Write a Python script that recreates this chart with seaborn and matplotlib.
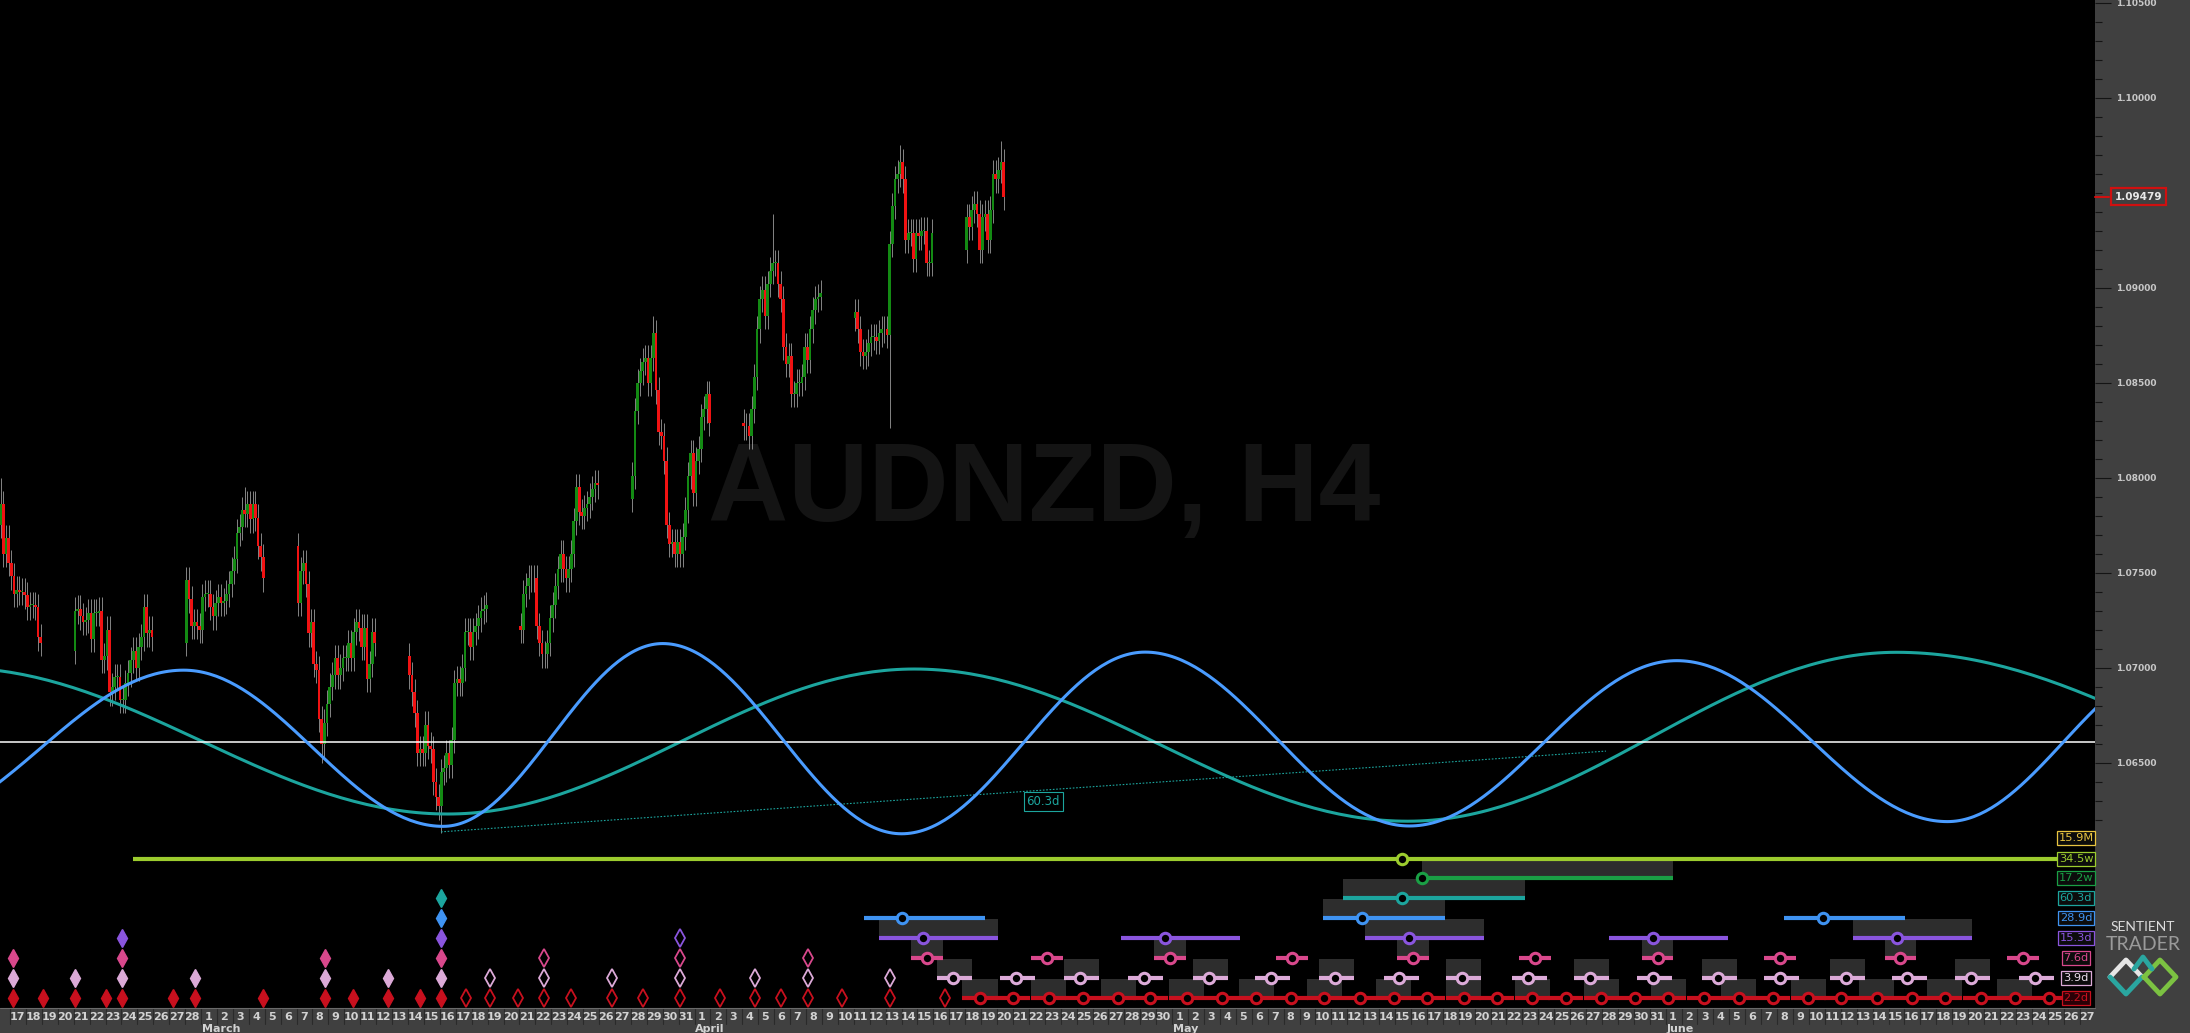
import numpy as np
import pandas as pd
import seaborn as sns
import matplotlib
matplotlib.use("Agg")
import matplotlib.pyplot as plt
from matplotlib.patches import Rectangle
from matplotlib.ticker import FixedLocator, FuncFormatter
from matplotlib.transforms import blended_transform_factory

# time axis: days counted from 17 Feb 2022 00:00
START = "2022-02-17"

# H4 candles, one list of closes per trading week
week_start = [-0.667, 4, 11, 18, 25, 32, 39, 46, 53, 60]
week_open = [1.0775, 1.0709, 1.0713, 1.0764, 1.0706, 1.0722, 1.0789, 1.0829, 1.0884, 1.0920]
week_close = [
    [1.0786, 1.0760, 1.0768, 1.0755, 1.0748, 1.0739, 1.0741, 1.0740, 1.0740, 1.0738,
     1.0732, 1.0733, 1.0733, 1.0732, 1.0716, 1.0713],
    [1.0730, 1.0731, 1.0727, 1.0724, 1.0725, 1.0729, 1.0715, 1.0729, 1.0729, 1.0730,
     1.0704, 1.0706, 1.0720, 1.0687, 1.0690, 1.0695, 1.0695, 1.0683, 1.0683, 1.0692,
     1.0697, 1.0704, 1.0709, 1.0700, 1.0711, 1.0716, 1.0732, 1.0718, 1.0720, 1.0716],
    [1.0746, 1.0736, 1.0722, 1.0724, 1.0722, 1.0720, 1.0737, 1.0739, 1.0739, 1.0732,
     1.0727, 1.0734, 1.0737, 1.0734, 1.0735, 1.0739, 1.0744, 1.0751, 1.0757, 1.0771,
     1.0774, 1.0783, 1.0781, 1.0786, 1.0778, 1.0786, 1.0779, 1.0764, 1.0758, 1.0747],
    [1.0734, 1.0751, 1.0755, 1.0744, 1.0718, 1.0724, 1.0702, 1.0699, 1.0673, 1.0660,
     1.0671, 1.0681, 1.0690, 1.0696, 1.0705, 1.0696, 1.0700, 1.0705, 1.0705, 1.0713,
     1.0705, 1.0719, 1.0724, 1.0721, 1.0711, 1.0721, 1.0694, 1.0702, 1.0719, 1.0713],
    [1.0696, 1.0687, 1.0676, 1.0655, 1.0657, 1.0655, 1.0670, 1.0659, 1.0657, 1.0640,
     1.0632, 1.0627, 1.0645, 1.0647, 1.0655, 1.0649, 1.0662, 1.0692, 1.0694, 1.0692,
     1.0700, 1.0719, 1.0719, 1.0711, 1.0719, 1.0722, 1.0726, 1.0730, 1.0731, 1.0733],
    [1.0720, 1.0739, 1.0743, 1.0747, 1.0747, 1.0747, 1.0722, 1.0713, 1.0707, 1.0707,
     1.0713, 1.0726, 1.0733, 1.0743, 1.0752, 1.0760, 1.0752, 1.0747, 1.0752, 1.0760,
     1.0777, 1.0795, 1.0782, 1.0780, 1.0784, 1.0786, 1.0790, 1.0794, 1.0797, 1.0796],
    [1.0801, 1.0835, 1.0850, 1.0856, 1.0861, 1.0863, 1.0850, 1.0863, 1.0876, 1.0846,
     1.0824, 1.0822, 1.0809, 1.0775, 1.0765, 1.0766, 1.0760, 1.0766, 1.0760, 1.0769,
     1.0783, 1.0801, 1.0813, 1.0792, 1.0809, 1.0815, 1.0832, 1.0836, 1.0844, 1.0829],
    [1.0827, 1.0827, 1.0822, 1.0836, 1.0853, 1.0878, 1.0894, 1.0899, 1.0885, 1.0902,
     1.0909, 1.0913, 1.0913, 1.0902, 1.0894, 1.0869, 1.0860, 1.0864, 1.0844, 1.0844,
     1.0850, 1.0850, 1.0853, 1.0869, 1.0862, 1.0878, 1.0888, 1.0894, 1.0895, 1.0897],
    [1.0887, 1.0878, 1.0866, 1.0864, 1.0866, 1.0871, 1.0874, 1.0874, 1.0872, 1.0876,
     1.0878, 1.0878, 1.0875, 1.0923, 1.0943, 1.0957, 1.0960, 1.0966, 1.0957, 1.0925,
     1.0929, 1.0929, 1.0915, 1.0929, 1.0927, 1.0930, 1.0930, 1.0913, 1.0913, 1.0929],
    [1.0937, 1.0932, 1.0941, 1.0944, 1.0939, 1.0920, 1.0937, 1.0939, 1.0925, 1.0941,
     1.0960, 1.0957, 1.0962, 1.0966, 1.09479],
]
# long wicks, (week, bar) -> price
wick_high = {(0, 0): 1.0800, (2, 22): 1.0795, (6, 8): 1.0885, (7, 11): 1.0939,
             (8, 17): 1.0975, (9, 13): 1.0977}
wick_low = {(3, 9): 1.0650, (4, 12): 1.0613, (8, 13): 1.0826}
wick = 0.0007
last_price = 1.09479

# cycle waves, turning points (day, price)
blue_t = [-7.0, 10.9, 27.2, 41.0, 56.0, 71.3, 87.9, 104.7, 121.7, 136.3]
blue_p = [1.0617, 1.06987, 1.06165, 1.07127, 1.06126, 1.07082, 1.06167, 1.07037, 1.0619, 1.0703]
teal_t = [-3.5, 27.5, 56.8, 87.8, 118.5, 154.0]
teal_p = [1.0700, 1.0623, 1.06993, 1.06192, 1.07081, 1.0620]
hline_price = 1.0661
trend_t = [27.07, 100.25]
trend_p = [1.06136, 1.06561]

# price scale labels (the 1.09500 label sits under the last-price tag)
price_labels = [1.065, 1.070, 1.075, 1.080, 1.085, 1.090, 1.100, 1.105]

# cycle rows
rows = ["15.9M", "34.5w", "17.2w", "60.3d", "28.9d", "15.3d", "7.6d", "3.9d", "2.2d"]
row_colors = ["#e8c440", "#9ccc2e", "#1a9f45", "#1ca59e", "#3f93f2", "#8a55de",
              "#d9488c", "#dcaad8", "#c8101e"]
diamond_filled = {
    "60.3d": [27.08],
    "28.9d": [27.08],
    "15.3d": [7.03, 27.08],
    "7.6d": [0.21, 7.03, 19.76, 27.08],
    "3.9d": [0.21, 4.06, 7.03, 11.65, 19.76, 23.77, 27.08],
    "2.2d": [0.21, 2.04, 4.06, 6.02, 7.03, 10.25, 11.65, 15.92, 19.76, 21.53, 23.77,
             25.73, 27.08],
}
diamond_hollow = {
    "15.3d": [42.08],
    "7.6d": [33.53, 42.08, 50.11],
    "3.9d": [30.13, 33.53, 37.79, 42.08, 46.80, 50.11, 55.30],
    "2.2d": [28.62, 30.13, 31.90, 33.53, 35.26, 37.79, 39.76, 42.08, 44.60, 46.80,
             48.45, 50.11, 52.27, 55.30, 58.73],
}
proj_t = {
    "34.5w": [87.44],
    "17.2w": [88.69],
    "60.3d": [87.44],
    "28.9d": [56.06, 84.92, 113.86],
    "15.3d": [57.32, 72.55, 87.88, 103.20, 118.53],
    "7.6d": [57.60, 65.14, 72.86, 80.53, 88.13, 95.79, 103.49, 111.18, 118.75, 126.44],
    "3.9d": [59.21, 63.18, 67.21, 71.23, 75.29, 79.21, 83.23, 87.28, 91.21, 95.35,
             99.25, 103.20, 107.26, 111.18, 115.33, 119.19, 123.18, 127.20],
    "2.2d": [60.93, 63.00, 65.26, 67.40, 69.60, 71.61, 73.93, 76.13, 78.27, 80.46,
             82.54, 84.80, 86.93, 89.01, 91.33, 93.40, 95.63, 97.71, 99.94, 102.07,
             104.15, 106.44, 108.59, 110.74, 112.97, 115.04, 117.27, 119.47, 121.54,
             123.79, 125.94, 128.08],
}
# days before / after each projected trough
proj_window = {"34.5w": (79.71, 43.56), "17.2w": (0.0, 15.8), "60.3d": (3.68, 7.75),
               "28.9d": (2.44, 5.2), "15.3d": (2.76, 4.71), "7.6d": (1.0, 1.0),
               "3.9d": (1.0, 1.2), "2.2d": (1.1, 1.1)}
# which projections carry the shaded box (every other one, starting at this index)
box_start = {"17.2w": 0, "60.3d": 0, "28.9d": 1, "15.3d": 0, "7.6d": 0, "3.9d": 0, "2.2d": 0}


def cycle_curve(ts, ps, n=80):
    xs, ys = [], []
    for i in range(len(ts) - 1):
        s = np.linspace(0, 1, n)
        xs.append(ts[i] + s * (ts[i + 1] - ts[i]))
        ys.append(ps[i] + (ps[i + 1] - ps[i]) * (1 - np.cos(np.pi * s)) / 2)
    return np.concatenate(xs), np.concatenate(ys)


# candle table
recs = []
for w, closes in enumerate(week_close):
    for k, c in enumerate(closes):
        o = week_open[w] if k == 0 else closes[k - 1]
        recs.append(dict(t=week_start[w] + k / 6 + 1 / 12, o=o, c=c,
                         hi=wick_high.get((w, k), max(o, c) + wick),
                         lo=wick_low.get((w, k), min(o, c) - wick)))
bars = pd.DataFrame(recs)

sns.set_theme(style="dark")
plt.rcParams["font.family"] = ["DejaVu Sans"]
NARROW = ["Liberation Sans Narrow", "DejaVu Sans"]

W, H = 2190, 1033
PLOT_R, PLOT_B = 2095, 1008
BG = "#404040"

fig = plt.figure(figsize=(W / 100, H / 100), dpi=100)
fig.patch.set_facecolor(BG)
pos = [0, (H - PLOT_B) / H, PLOT_R / W, PLOT_B / H]
ax = fig.add_axes(pos)
ax.set_facecolor("black")
ax.set_xlim(-0.63, 130.97)
ax.set_ylim(1.05209, 1.10514)
for s in ax.spines.values():
    s.set_visible(False)
ax.grid(False)

# watermark
ax.text(64.95, 1.07925, "AUDNZD, H4", fontsize=80, fontweight="bold", color="#141414",
        family=["Liberation Sans", "DejaVu Sans"], ha="center", va="center", zorder=0)

# candles
ax.vlines(bars.t, bars.lo, bars.hi, color="#9a9a9a", lw=0.6, zorder=2)
up = bars.c >= bars.o
body = (bars.c - bars.o).where((bars.c - bars.o).abs() > 0.00004, 0.00004)
ax.bar(bars.t[up], body[up], bottom=bars.o[up], width=0.17, color="#138a13",
       edgecolor="none", linewidth=0, zorder=3)
ax.bar(bars.t[~up], body[~up], bottom=bars.o[~up], width=0.17, color="#f01212",
       edgecolor="none", linewidth=0, zorder=3)

# cycle waves
bx, by = cycle_curve(blue_t, blue_p)
tx, ty = cycle_curve(teal_t, teal_p)
sns.lineplot(x=tx, y=ty, ax=ax, color="#1ca59e", linewidth=2.2, sort=False, estimator=None, zorder=4)
sns.lineplot(x=bx, y=by, ax=ax, color="#4a9cff", linewidth=2.2, sort=False, estimator=None, zorder=5)
ax.axhline(hline_price, color="white", lw=1.1, zorder=4)
ax.plot(trend_t, trend_p, color="#1ca59e", lw=0.8, ls=(0, (1.5, 1.5)), zorder=4)
ax.text(64.9, 1.06296, "60.3d", color="#1ca59e", fontsize=8.5, family=NARROW,
        ha="center", va="center",
        bbox=dict(boxstyle="square,pad=0.25", fc="black", ec="#1ca59e", lw=0.8), zorder=6)

# price scale on the right
ax.yaxis.tick_right()
ax.yaxis.set_major_locator(FixedLocator(price_labels))
ax.yaxis.set_minor_locator(FixedLocator(np.round(np.arange(1.062, 1.1051, 0.001), 3)))
ax.yaxis.set_major_formatter(FuncFormatter(lambda v, _: f"{v:.5f}"))
ax.tick_params(axis="y", which="both", right=True, left=False, labelright=True, labelleft=False)
ax.tick_params(axis="y", which="major", length=11.5, width=0.8, color="#141414", pad=3.5,
               labelsize=6.5, labelcolor="#c8c8c8")
ax.tick_params(axis="y", which="minor", length=5, width=0.8, color="#141414")
ax.set_xticks([])
ax.set_ylabel("")
for lab in ax.get_yticklabels():
    lab.set_fontweight("bold")

tr_r = blended_transform_factory(ax.transAxes, ax.transData)
ax.plot([1.0, 1.0065], [last_price, last_price], color="#d01010", lw=1.5, transform=tr_r,
        clip_on=False, zorder=7)
ax.text(1.0208, last_price, f"{last_price:.5f}", transform=tr_r, ha="center", va="center",
        fontsize=7.5, fontweight="bold", color="#e8e8e8", clip_on=False,
        bbox=dict(boxstyle="square,pad=0.35", fc=BG, ec="#d01010", lw=1.6))

# cycle panel (y in pixels from the top)
row_y = dict(zip(rows, [838, 859, 878, 898, 918, 938, 958, 978, 998]))
row_col = dict(zip(rows, row_colors))
ax2 = fig.add_axes(pos, facecolor="none")
ax2.set_xlim(ax.get_xlim())
ax2.set_ylim(PLOT_B, 0)
ax2.axis("off")

for r, ts in proj_t.items():
    y, col = row_y[r], row_col[r]
    wb, wa = proj_window[r]
    for i, t in enumerate(ts):
        if r in box_start and i % 2 == box_start[r]:
            ax2.add_patch(Rectangle((t - wb, y - 19.5), wb + wa, 19.5, color="#2d2d2d", lw=0, zorder=1))
        ax2.plot([t - wb, min(t + wa, 130.97)], [y, y], color=col, lw=3, solid_capstyle="butt", zorder=2)
    ax2.plot(ts, [y] * len(ts), ls="none", marker="o", ms=7.5, mew=2.2, mfc="black",
             mec=col, zorder=3)

for r, ts in diamond_filled.items():
    ax2.plot(ts, [row_y[r]] * len(ts), ls="none", marker="d", ms=9.2, mew=1,
             mfc=row_col[r], mec=row_col[r], zorder=3)
for r, ts in diamond_hollow.items():
    ax2.plot(ts, [row_y[r]] * len(ts), ls="none", marker="d", ms=8.8, mew=1.3,
             mfc="black", mec=row_col[r], zorder=3)

# figure-level overlay in pixels
axf = fig.add_axes([0, 0, 1, 1], facecolor="none")
axf.set_xlim(0, W)
axf.set_ylim(H, 0)
axf.axis("off")

# cycle labels at the right edge of the plot
label_text = {"3.9d": "#eadcea"}
label_fill = {"2.2d": "#2a0006"}
for r in rows:
    axf.text(2076, row_y[r], r, ha="center", va="center", fontsize=8.2, family=NARROW,
             color=label_text.get(r, row_col[r]),
             bbox=dict(boxstyle="square,pad=0.16", fc=label_fill.get(r, "#0c0c0c"),
                       ec=row_col[r], lw=0.9))

# date strip
trd = blended_transform_factory(ax.transData, axf.transData)
days = pd.date_range(START, periods=131, freq="D")
for d, day in enumerate(days):
    axf.plot([d, d], [PLOT_B, PLOT_B + 16], transform=trd, color="#2a2a2a", lw=0.8)
    axf.text(d + 0.45, PLOT_B + 9, str(day.day), transform=trd, ha="center", va="center",
             fontsize=8, fontweight="bold", family=NARROW, color="#d2d2d2")
    if day.day == 1:
        axf.text(d + 0.05, PLOT_B + 20.5, day.strftime("%B"), transform=trd, ha="left",
                 va="center", fontsize=8, fontweight="bold", family=NARROW, color="#d2d2d2")
axf.plot([0, PLOT_R], [PLOT_B, PLOT_B], color="#6a6a6a", lw=0.8)

# vendor mark
axf.text(2143, 927, "SENTIENT", ha="center", va="center", fontsize=10, color="#dcdcdc",
         family=["Lato", "DejaVu Sans"])
axf.text(2143, 945, "TRADER", ha="center", va="center", fontsize=14, color="#9a9a9a",
         family=["Lato", "DejaVu Sans"])
axf.plot([2110, 2126, 2142], [977, 960, 977], color="#e6e6e6", lw=3.5, solid_capstyle="round")
axf.plot([2110, 2126, 2142], [977, 994, 977], color="#2aa6a0", lw=3.5, solid_capstyle="round")
axf.plot([2144, 2160, 2176, 2160, 2144], [977, 960, 977, 994, 977], color="#7cc242", lw=3.5,
         solid_capstyle="round")
axf.plot([2134, 2143, 2152], [969, 957, 969], color="#2aa6a0", lw=3.5, solid_capstyle="round")

fig.savefig("out.png", dpi=100, facecolor=fig.get_facecolor())
